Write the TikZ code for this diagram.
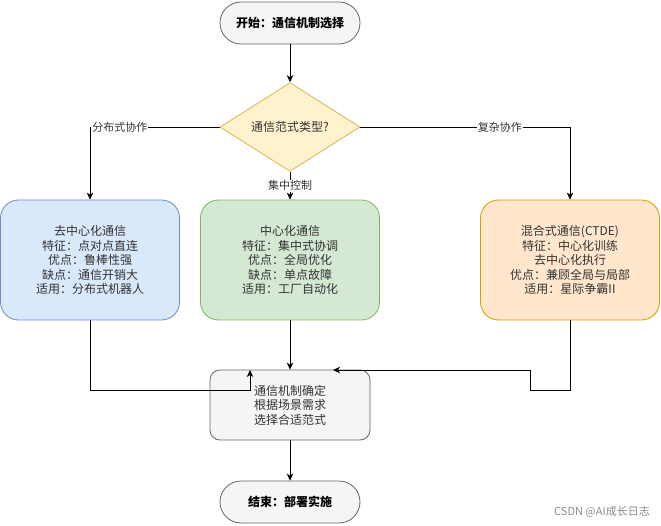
\documentclass[tikz,border=0pt]{standalone}
\usepackage{fontspec}
\setmainfont{Noto Sans CJK SC}
\usetikzlibrary{shapes.geometric,arrows.meta}
\definecolor{grayfill}{HTML}{F5F5F5}
\definecolor{graystroke}{HTML}{666666}
\definecolor{bluefill}{HTML}{DAE8FC}
\definecolor{bluestroke}{HTML}{6C8EBF}
\definecolor{greenfill}{HTML}{D5E8D4}
\definecolor{greenstroke}{HTML}{82B366}
\definecolor{orangefill}{HTML}{FFE6CC}
\definecolor{orangestroke}{HTML}{D79B00}
\definecolor{yellowfill}{HTML}{FFF2CC}
\definecolor{yellowstroke}{HTML}{D6B656}
\definecolor{txt}{HTML}{333333}
\begin{document}
\begin{tikzpicture}[x=1pt,y=-1pt,
  pill/.style={draw=graystroke,fill=grayfill,line width=0.8pt,rounded corners=21pt,minimum width=140pt,minimum height=42pt,inner sep=0pt,font=\fontsize{12}{14}\selectfont\bfseries,text=black},
  card/.style={draw=#1stroke,fill=#1fill,line width=0.8pt,rounded corners=18pt,minimum width=179pt,minimum height=120pt,inner sep=0pt,align=center,font=\fontsize{12}{14.5}\selectfont,text=txt},
  dec/.style={draw=yellowstroke,fill=yellowfill,line width=0.8pt,diamond,minimum width=140pt,minimum height=84pt,inner sep=0pt,font=\fontsize{12}{14}\selectfont,text=txt},
  arr/.style={draw=black,line width=0.8pt,-{Stealth[length=7pt,width=6.5pt,inset=2pt]}},
  lbl/.style={fill=white,inner sep=1pt,font=\fontsize{11}{13}\selectfont,text=txt}]
\useasboundingbox (0,0) rectangle (661,526);
\fill[white] (0,0) rectangle (661,526);
\node[pill] (start) at (290,23) {开始：通信机制选择};
\node[dec] (type) at (290,127) {通信范式类型?};
\node[card=blue] (dist) at (90,260) {去中心化通信\\特征：点对点直连\\优点：鲁棒性强\\缺点：通信开销大\\适用：分布式机器人};
\node[card=green] (cent) at (290,260) {中心化通信\\特征：集中式协调\\优点：全局优化\\缺点：单点故障\\适用：工厂自动化};
\node[card=orange] (hyb) at (570,260) {混合式通信(CTDE)\\特征：中心化训练\\去中心化执行\\优点：兼顾全局与局部\\适用：星际争霸II};
\node[draw=graystroke,fill=grayfill,line width=0.8pt,rounded corners=10pt,minimum width=160pt,minimum height=70pt,inner sep=0pt,align=center,font=\fontsize{12}{14.5}\selectfont,text=txt] (done) at (290,405) {通信机制确定\\根据场景需求\\选择合适范式};
\node[pill] (finish) at (290,502) {结束：部署实施};
\coordinate (ljoin) at (250,390);
\coordinate (ltip) at (250,370);
\coordinate (rjoin) at (530,390);
\coordinate (rbend) at (530,370);
\coordinate (rtip) at (333,370);
\draw[arr] (start) -- (type);
\draw[arr] (type.west) -| node[lbl,pos=0.385] {分布式协作} (dist.north);
\draw[arr] (type.south) -- node[lbl,pos=0.5] {集中控制} (cent.north);
\draw[arr] (type.east) -| node[lbl,pos=0.333] {复杂协作} (hyb.north);
\draw[arr] (dist.south) |- (ljoin) -- (ltip);
\draw[arr] (cent.south) -- (done.north);
\draw[arr] (hyb.south) |- (rjoin) -- (rbend) -- (rtip);
\draw[arr] (done.south) -- (finish.north);
\node[font=\fontsize{11}{13}\selectfont,text=black!45] (mark) at (602,512) {CSDN @AI成长日志};
\end{tikzpicture}
\end{document}
